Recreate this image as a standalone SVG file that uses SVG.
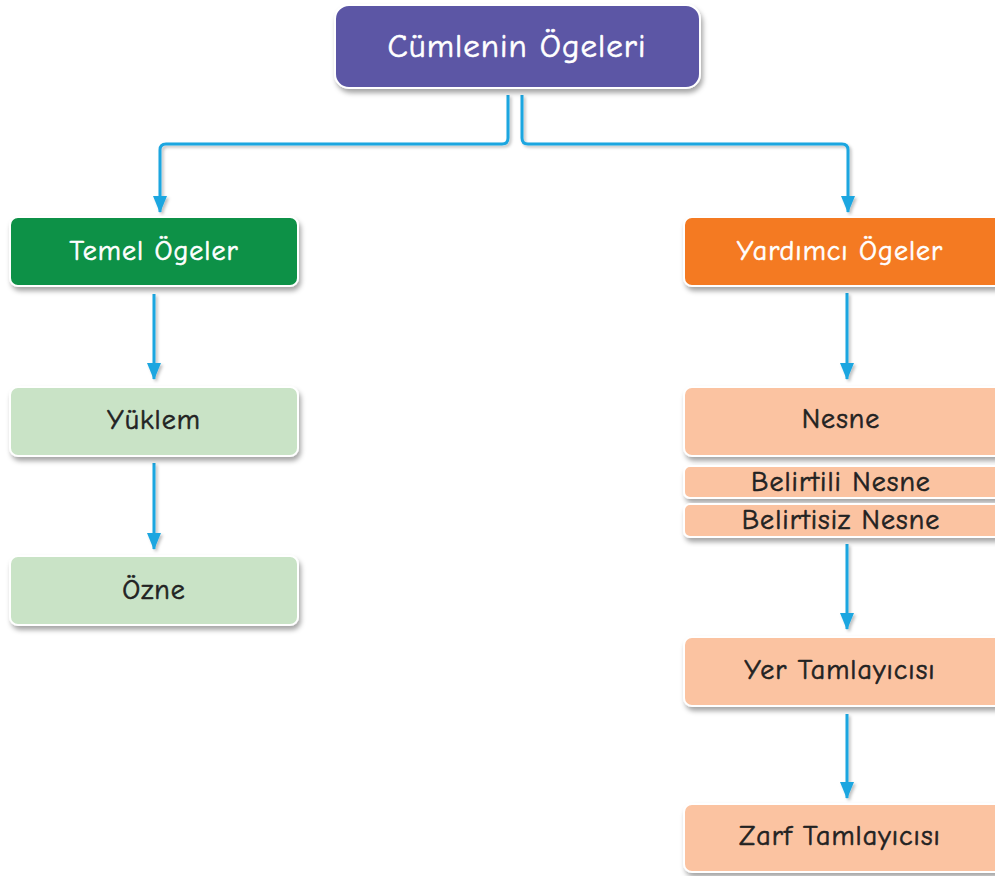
<svg xmlns="http://www.w3.org/2000/svg" width="995" height="876" viewBox="0 0 995 876">
<style>
.box{stroke:#ffffff;stroke-width:2;filter:url(#sh)}
.t{font-family:"Comic Neue","Comic Sans MS","Noto Sans",sans-serif;text-anchor:middle;dominant-baseline:central;font-size:28px;letter-spacing:1px;stroke-width:0.6px}
.w{fill:#ffffff;stroke:#ffffff}
.d{fill:#222222;stroke:#222222}
.c{fill:none;stroke:#1BA6E0;stroke-width:3}
</style>
<defs>
<filter id="sh" x="-10%" y="-20%" width="120%" height="150%">
<feDropShadow dx="2" dy="4" stdDeviation="2.5" flood-color="#000" flood-opacity="0.35"/>
</filter>
<filter id="sh2" filterUnits="userSpaceOnUse" x="0" y="0" width="995" height="876">
<feDropShadow dx="2" dy="2" stdDeviation="1.5" flood-color="#000" flood-opacity="0.25"/>
</filter>
<marker id="ah" viewBox="0 0 17 14" refX="16" refY="7" markerWidth="17" markerHeight="14" markerUnits="userSpaceOnUse" orient="auto">
<path d="M0,0 L17,7 L0,14 Z" fill="#1BA6E0"/>
</marker>
</defs>
<rect width="995" height="876" fill="#ffffff"/>
<g id="connectors" filter="url(#sh2)">
<path class="c" d="M508,95 V138 Q508,144 502,144 H166 Q160,144 160,150 V212" marker-end="url(#ah)"/>
<path class="c" d="M522,95 V138 Q522,144 528,144 H842 Q848,144 848,150 V212" marker-end="url(#ah)"/>
<path class="c" d="M154,294 V379" marker-end="url(#ah)"/>
<path class="c" d="M154,463 V549" marker-end="url(#ah)"/>
<path class="c" d="M847,293 V379" marker-end="url(#ah)"/>
<path class="c" d="M847,544 V629" marker-end="url(#ah)"/>
<path class="c" d="M847,714 V798" marker-end="url(#ah)"/>
</g>
<g id="root">
<rect class="box" x="335" y="5" width="365" height="83" rx="14" fill="#5B57A5"/>
<text class="t w" x="517" y="46" style="font-size:33px">Cümlenin Ögeleri</text>
</g>
<g id="temel">
<rect class="box" x="10" y="217" width="288" height="69" rx="8" fill="#0E9146"/>
<text class="t w" x="154" y="251">Temel Ögeler</text>
</g>
<g id="yardimci">
<rect class="box" x="684" y="217" width="320" height="69" rx="8" fill="#F47A21"/>
<text class="t w" x="840" y="251">Yardımcı Ögeler</text>
</g>
<g id="yuklem">
<rect class="box" x="10" y="387" width="288" height="69" rx="8" fill="#C9E3C6"/>
<text class="t d" x="154" y="420">Yüklem</text>
</g>
<g id="ozne">
<rect class="box" x="10" y="556" width="288" height="69" rx="8" fill="#C9E3C6"/>
<text class="t d" x="154" y="590">Özne</text>
</g>
<g id="nesne">
<rect class="box" x="684" y="387" width="320" height="69" rx="8" fill="#FBC3A1"/>
<text class="t d" x="841" y="419">Nesne</text>
</g>
<g id="belirtili">
<rect class="box" x="684" y="466" width="320" height="32" rx="6" fill="#FBC3A1"/>
<text class="t d" x="841" y="482">Belirtili Nesne</text>
</g>
<g id="belirtisiz">
<rect class="box" x="684" y="504" width="320" height="33" rx="6" fill="#FBC3A1"/>
<text class="t d" x="841" y="520">Belirtisiz Nesne</text>
</g>
<g id="yer">
<rect class="box" x="684" y="637" width="320" height="69" rx="8" fill="#FBC3A1"/>
<text class="t d" x="840" y="670">Yer Tamlayıcısı</text>
</g>
<g id="zarf">
<rect class="box" x="684" y="804" width="320" height="68" rx="8" fill="#FBC3A1"/>
<text class="t d" x="840" y="836">Zarf Tamlayıcısı</text>
</g>
</svg>
